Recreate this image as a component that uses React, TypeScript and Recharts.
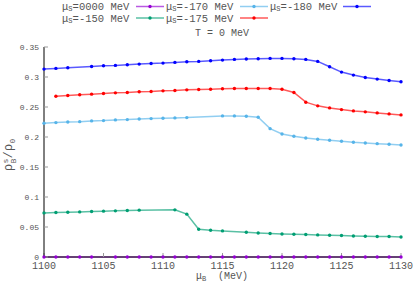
import { Line, LineChart, XAxis, YAxis } from "recharts";

const muB = [
  1100, 1101, 1102, 1103, 1104, 1105, 1106, 1107, 1108, 1109, 1110, 1111, 1112, 1113, 1114, 1115,
  1116, 1117, 1118, 1119, 1120, 1121, 1122, 1123, 1124, 1125, 1126, 1127, 1128, 1129, 1130,
];

const rhoS0000 = [
  0, 0, 0, 0, 0, null, 0, 0, 0, 0, 0, 0, 0, 0, 0, 0,
  0, 0, 0, 0, 0, 0, 0, 0, 0, 0, 0, 0, 0, 0, 0,
];
const rhoS150 = [
  0.0735, 0.0741, 0.0747, 0.0752, 0.0759, 0.0764, 0.0769, 0.0776, 0.0781, null, null, 0.0786, 0.0714, 0.0463, 0.0446, 0.0435,
  null, 0.0413, 0.0401, 0.0391, 0.0384, 0.0379, 0.0374, 0.0368, 0.0363, 0.0358, 0.0351, 0.0346, 0.0341, 0.0341, 0.0334,
];
const rhoS170 = [
  0.223, 0.224, 0.2251, 0.2256, 0.2268, 0.2273, 0.2285, 0.229, 0.2301, 0.2307, 0.2313, 0.2318, 0.2323, null, null, 0.2352,
  0.2352, 0.2347, 0.233, 0.2139, 0.2051, 0.2012, 0.1984, 0.1962, 0.1945, 0.1929, 0.1912, 0.19, 0.1889, 0.1879, 0.1867,
];
const rhoS175 = [
  null, 0.268, 0.2691, 0.2703, 0.2714, 0.2725, 0.2736, 0.2742, 0.2753, 0.2758, 0.2769, 0.2775, 0.2786, 0.2792, 0.2797, 0.2803,
  0.2808, 0.2808, 0.2808, 0.2808, 0.2797, 0.2742, 0.258, 0.2519, 0.2485, 0.2457, 0.2435, 0.2419, 0.2402, 0.2385, 0.2368,
];
const rhoS180 = [
  0.3132, 0.3143, 0.3154, null, 0.3176, 0.3187, 0.3193, 0.3204, 0.3215, 0.3226, 0.3232, 0.3243, 0.3254, 0.326, 0.3271, 0.3282,
  0.3293, 0.3299, 0.3304, 0.331, 0.331, 0.3304, 0.3293, 0.326, 0.3171, 0.3082, 0.3032, 0.2992, 0.2965, 0.2942, 0.292,
];

const xTicks = [1100, 1105, 1110, 1115, 1120, 1125, 1130];
const yTicks = [0, 0.05, 0.1, 0.15, 0.2, 0.25, 0.3, 0.35];
const yTickLabels = ["0", "0.05", "0.1", "0.15", "0.2", "0.25", "0.3", "0.35"];

const series = [
  { key: "s0000", name: "0000", color: "#9400d3", values: rhoS0000 },
  { key: "s150", name: "-150", color: "#009e73", values: rhoS150 },
  { key: "s170", name: "-170", color: "#56b4e9", values: rhoS170 },
  { key: "s175", name: "-175", color: "#ff0000", values: rhoS175 },
  { key: "s180", name: "-180", color: "#0000ff", values: rhoS180 },
];

const data = muB.map((mu, i) => {
  const row: Record<string, number | null> = { mu };
  series.forEach((s) => (row[s.key] = s.values[i]));
  return row;
});

const FONT = "'Liberation Mono', monospace";
const INK = "#555";

// key layout, gnuplot style: 3 columns, filled column by column
const keySlots = [
  { tx: 62, lx: 136, y: 10 },
  { tx: 62, lx: 136, y: 21.5 },
  { tx: 166, lx: 240, y: 10 },
  { tx: 166, lx: 240, y: 21.5 },
  { tx: 270, lx: 343, y: 10 },
];

function Key() {
  return (
    <svg width={415} height={44} style={{ position: "absolute", left: 0, top: 0, pointerEvents: "none" }}>
      {series.map((s, i) => {
        const k = keySlots[i];
        return (
          <g key={s.key} fontFamily={FONT} fill={INK}>
            <text x={k.tx} y={k.y} fontSize={10.5}>μ</text>
            <text x={k.tx + 6.3} y={k.y + 1} fontSize={7}>S</text>
            <text x={k.tx + 10.6} y={k.y} fontSize={10.5}>={s.name} MeV</text>
            <line x1={k.lx} x2={k.lx + 28} y1={k.y - 3.5} y2={k.y - 3.5} stroke={s.color} strokeOpacity={0.65} strokeWidth={1.5} />
            <circle cx={k.lx + 14} cy={k.y - 3.5} r={1.7} fill={s.color} />
          </g>
        );
      })}
      <text x={222} y={36} textAnchor="middle" fontFamily={FONT} fontSize={10} fill={INK}>
        T = 0 MeV
      </text>
    </svg>
  );
}

const XLabel = () => (
  <g fontFamily={FONT} fill={INK}>
    <text x={196} y={279} fontSize={10}>μ</text>
    <text x={202} y={281} fontSize={7}>B</text>
    <text x={218} y={279} fontSize={10}>(MeV)</text>
  </g>
);

const Rot = ({ x, y, size, t }: { x: number; y: number; size: number; t: string }) => (
  <text x={x} y={y} transform={`rotate(-90 ${x} ${y})`} fontSize={size}>
    {t}
  </text>
);

const YLabel = () => (
  <g fontFamily={FONT} fill={INK}>
    <Rot x={12} y={171} size={12} t="ρ" />
    <Rot x={8} y={163.5} size={8} t="s" />
    <Rot x={15.5} y={163.5} size={8} t="B" />
    <Rot x={12} y={158.5} size={12} t="/" />
    <Rot x={12} y={151} size={12} t="ρ" />
    <Rot x={14.5} y={143.5} size={8} t="0" />
  </g>
);

const tickLine = { stroke: "#999" };
const axisLine = { stroke: "#000" };

export default function App() {
  return (
    <div style={{ position: "absolute", left: 0, top: 0, width: 415, height: 291, background: "#fff" }}>
      <LineChart width={415} height={291} data={data} margin={{ top: 47, right: 14, bottom: 0, left: 0 }}>
        <XAxis
          xAxisId="b"
          dataKey="mu"
          type="number"
          domain={[1100, 1130]}
          ticks={xTicks}
          height={34}
          tickSize={-4}
          tickMargin={9}
          tickLine={tickLine}
          axisLine={axisLine}
          tick={{ fontSize: 10, fontFamily: FONT, fill: INK }}
          label={{ content: XLabel }}
        />
        <XAxis
          xAxisId="t"
          orientation="top"
          dataKey="mu"
          type="number"
          domain={[1100, 1130]}
          ticks={xTicks}
          height={0}
          tickSize={-4}
          tickLine={tickLine}
          axisLine={axisLine}
          tickFormatter={() => ""}
        />
        <YAxis
          yAxisId="l"
          type="number"
          domain={[0, 0.35]}
          ticks={yTicks}
          width={44}
          tickSize={-4}
          tickMargin={9}
          tickLine={tickLine}
          axisLine={axisLine}
          tickFormatter={(v: number) => yTickLabels[yTicks.indexOf(v)] ?? String(v)}
          tick={{ fontSize: 8, fontFamily: FONT, fill: INK }}
          label={{ content: YLabel }}
        />
        <YAxis
          yAxisId="r"
          orientation="right"
          type="number"
          domain={[0, 0.35]}
          ticks={yTicks}
          width={0}
          tickSize={-4}
          tickLine={tickLine}
          axisLine={axisLine}
          tickFormatter={() => ""}
        />
        {series.map((s) => (
          <Line
            key={s.key}
            xAxisId="b"
            yAxisId="l"
            dataKey={s.key}
            type="linear"
            stroke={s.color}
            strokeOpacity={0.65}
            strokeWidth={1.5}
            connectNulls
            dot={{ r: 1.7, fill: s.color, stroke: "none", fillOpacity: 1 }}
            isAnimationActive={false}
          />
        ))}
      </LineChart>
      <Key />
    </div>
  );
}
